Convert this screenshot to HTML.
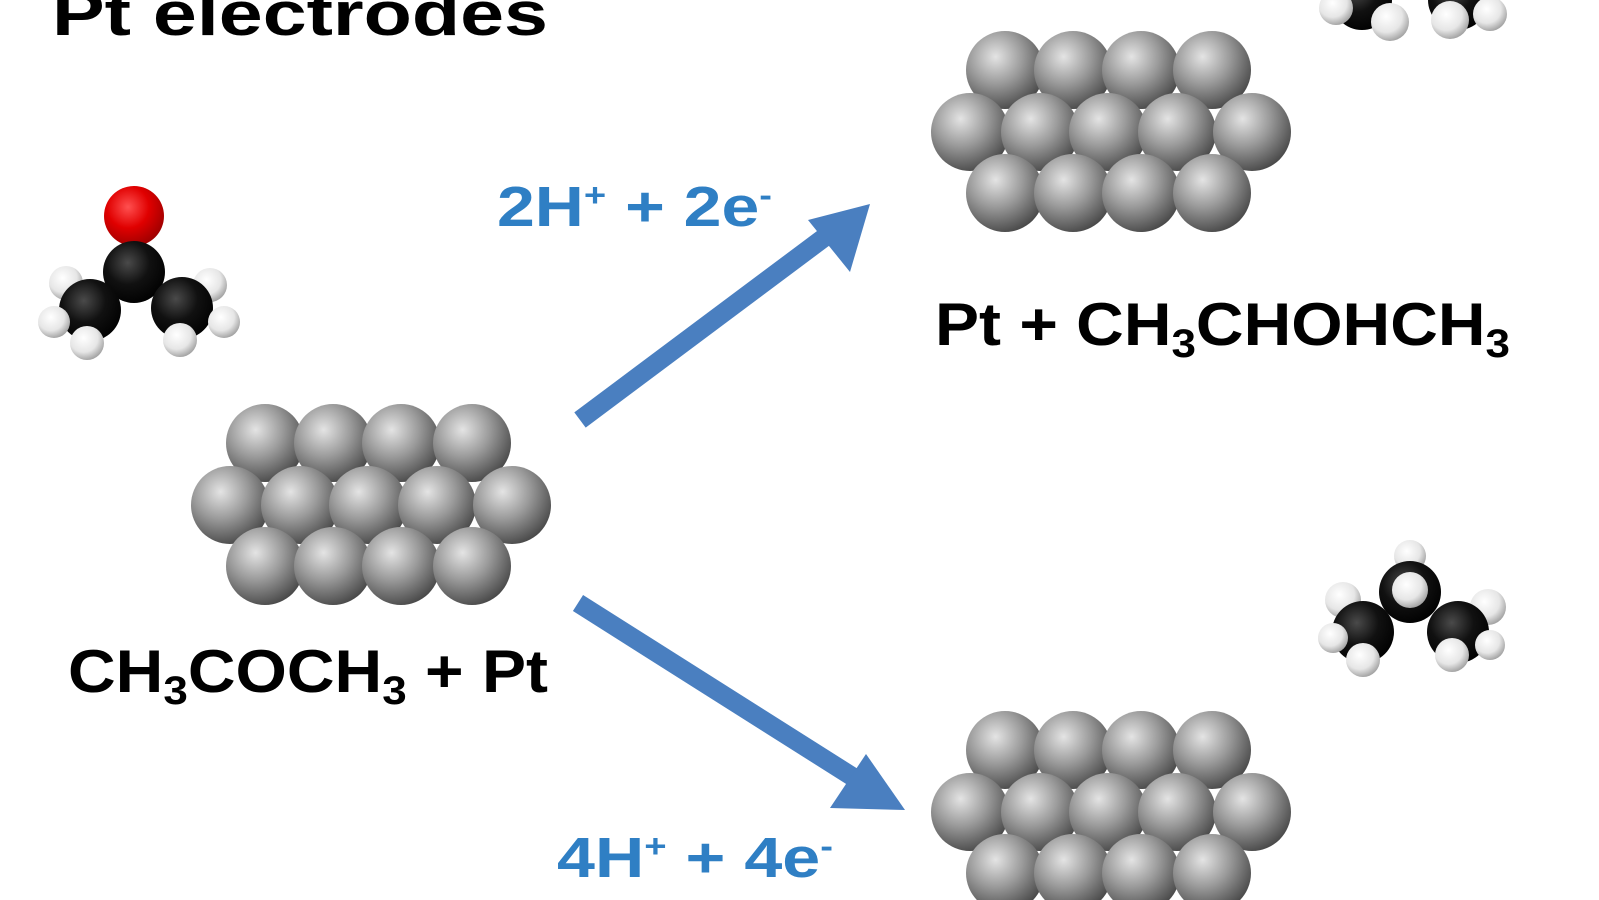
<!DOCTYPE html>
<html><head><meta charset="utf-8"><style>
html,body{margin:0;padding:0;background:#fff;}
svg{display:block;}
text{font-family:"Liberation Sans",Arial,sans-serif;font-weight:bold;}
</style></head><body>
<svg width="1599" height="900" viewBox="0 0 1599 900" xmlns="http://www.w3.org/2000/svg">
<defs>
<radialGradient id="pt" cx="0.38" cy="0.33" r="0.7">
<stop offset="0" stop-color="#e4e4e4"/><stop offset="0.5" stop-color="#9a9a9a"/><stop offset="1" stop-color="#4a4a4a"/></radialGradient>
<radialGradient id="c" cx="0.4" cy="0.35" r="0.7">
<stop offset="0" stop-color="#4a4a4a"/><stop offset="0.5" stop-color="#111"/><stop offset="1" stop-color="#000"/></radialGradient>
<radialGradient id="h" cx="0.4" cy="0.35" r="0.7">
<stop offset="0" stop-color="#fff"/><stop offset="0.6" stop-color="#e6e6e6"/><stop offset="1" stop-color="#9a9a9a"/></radialGradient>
<radialGradient id="o" cx="0.4" cy="0.35" r="0.7">
<stop offset="0" stop-color="#ff5050"/><stop offset="0.5" stop-color="#e00000"/><stop offset="1" stop-color="#900"/></radialGradient>
<g id="cluster">
<circle cx="35" cy="-62" r="39" fill="url(#pt)"/><circle cx="103" cy="-62" r="39" fill="url(#pt)"/><circle cx="171" cy="-62" r="39" fill="url(#pt)"/><circle cx="242" cy="-62" r="39" fill="url(#pt)"/>
<circle cx="0" cy="0" r="39" fill="url(#pt)"/><circle cx="70" cy="0" r="39" fill="url(#pt)"/><circle cx="138" cy="0" r="39" fill="url(#pt)"/><circle cx="207" cy="0" r="39" fill="url(#pt)"/><circle cx="282" cy="0" r="39" fill="url(#pt)"/>
<circle cx="35" cy="61" r="39" fill="url(#pt)"/><circle cx="103" cy="61" r="39" fill="url(#pt)"/><circle cx="171" cy="61" r="39" fill="url(#pt)"/><circle cx="242" cy="61" r="39" fill="url(#pt)"/>
</g>
</defs>
<text x="52" y="35" font-size="62" textLength="496" lengthAdjust="spacingAndGlyphs">Pt electrodes</text>

<use href="#cluster" x="230" y="505"/>
<use href="#cluster" x="970" y="132"/>
<use href="#cluster" x="970" y="812"/>

<!-- acetone -->
<circle cx="66" cy="283" r="17" fill="url(#h)"/>
<circle cx="210" cy="285" r="17" fill="url(#h)"/>
<circle cx="134" cy="216" r="30" fill="url(#o)"/>
<circle cx="134" cy="272" r="31" fill="url(#c)"/>
<circle cx="90" cy="310" r="31" fill="url(#c)"/>
<circle cx="182" cy="308" r="31" fill="url(#c)"/>
<circle cx="54" cy="322" r="16" fill="url(#h)"/>
<circle cx="224" cy="322" r="16" fill="url(#h)"/>
<circle cx="87" cy="343" r="17" fill="url(#h)"/>
<circle cx="180" cy="340" r="17" fill="url(#h)"/>

<!-- top-right partial molecule -->
<circle cx="1362" cy="0" r="30" fill="url(#c)"/>
<circle cx="1458" cy="0" r="30" fill="url(#c)"/>
<circle cx="1336" cy="8" r="17" fill="url(#h)"/>
<circle cx="1490" cy="14" r="17" fill="url(#h)"/>
<circle cx="1390" cy="22" r="19" fill="url(#h)"/>
<circle cx="1450" cy="20" r="19" fill="url(#h)"/>

<!-- isopropanol -->
<circle cx="1410" cy="556" r="16" fill="url(#h)"/>
<circle cx="1343" cy="600" r="18" fill="url(#h)"/>
<circle cx="1488" cy="607" r="18" fill="url(#h)"/>
<circle cx="1410" cy="592" r="31" fill="url(#c)"/>
<circle cx="1410" cy="590" r="18" fill="url(#h)"/>
<circle cx="1363" cy="632" r="31" fill="url(#c)"/>
<circle cx="1458" cy="632" r="31" fill="url(#c)"/>
<circle cx="1333" cy="638" r="15" fill="url(#h)"/>
<circle cx="1490" cy="645" r="15" fill="url(#h)"/>
<circle cx="1363" cy="660" r="17" fill="url(#h)"/>
<circle cx="1452" cy="655" r="17" fill="url(#h)"/>

<!-- arrows -->
<line x1="580" y1="420" x2="845" y2="222" stroke="#4a7fc0" stroke-width="19"/>
<polygon points="870,204 808,220 850,272" fill="#4a7fc0"/>
<line x1="578" y1="603" x2="875" y2="791" stroke="#4a7fc0" stroke-width="19"/>
<polygon points="905,810 866,754 830,808" fill="#4a7fc0"/>

<text x="497" y="226" font-size="57" fill="#2f7fc4" textLength="275" lengthAdjust="spacingAndGlyphs">2H<tspan dy="-20" font-size="32">+</tspan><tspan dy="20"> + 2e</tspan><tspan dy="-20" font-size="32">-</tspan></text>
<text x="557" y="877" font-size="57" fill="#2f7fc4" textLength="276" lengthAdjust="spacingAndGlyphs">4H<tspan dy="-20" font-size="32">+</tspan><tspan dy="20"> + 4e</tspan><tspan dy="-20" font-size="32">-</tspan></text>

<text x="935" y="345" font-size="60" textLength="575" lengthAdjust="spacingAndGlyphs">Pt + CH<tspan dy="12" font-size="40">3</tspan><tspan dy="-12">CHOHCH</tspan><tspan dy="12" font-size="40">3</tspan></text>
<text x="68" y="692" font-size="60" textLength="480" lengthAdjust="spacingAndGlyphs">CH<tspan dy="12" font-size="40">3</tspan><tspan dy="-12">COCH</tspan><tspan dy="12" font-size="40">3</tspan><tspan dy="-12"> + Pt</tspan></text>
</svg>
</body></html>
